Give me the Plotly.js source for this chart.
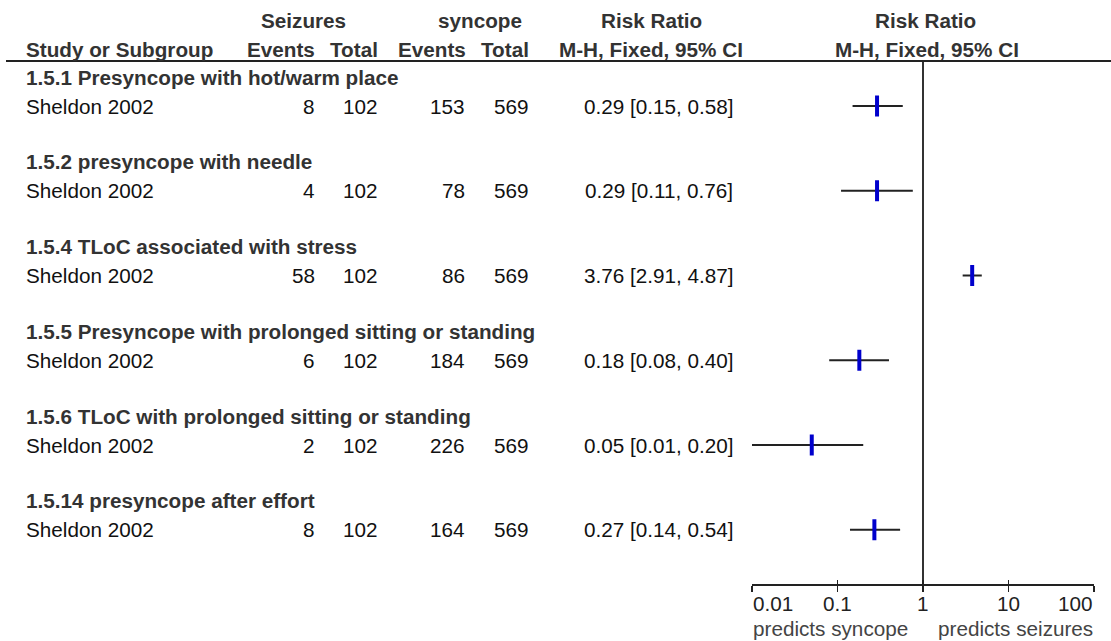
<!DOCTYPE html>
<html>
<head>
<meta charset="utf-8">
<script src="https://cdn.plot.ly/plotly-3.0.1.min.js"></script>
<style>html,body{margin:0;padding:0;background:#fff;}#chart{width:1111px;height:641px;}</style>
</head>
<body>
<div id="chart"></div>
<script>
// ---- data ----
const groups = [
  '1.5.1 Presyncope with hot/warm place',
  '1.5.2 presyncope with needle',
  '1.5.4 TLoC associated with stress',
  '1.5.5 Presyncope with prolonged sitting or standing',
  '1.5.6 TLoC with prolonged sitting or standing',
  '1.5.14 presyncope after effort'
];
const studies = ['Sheldon 2002','Sheldon 2002','Sheldon 2002','Sheldon 2002','Sheldon 2002','Sheldon 2002'];
const seizEvents = [8, 4, 58, 6, 2, 8];
const seizTotal = [102, 102, 102, 102, 102, 102];
const syncEvents = [153, 78, 86, 184, 226, 164];
const syncTotal = [569, 569, 569, 569, 569, 569];
const rr = [0.29, 0.29, 3.76, 0.18, 0.05, 0.27];
const ciLow = [0.15, 0.11, 2.91, 0.08, 0.01, 0.14];
const ciHigh = [0.58, 0.76, 4.87, 0.40, 0.20, 0.54];
const tickVals = [0.01, 0.1, 1, 10, 100];
const tickText = ['0.01', '0.1', '1', '10', '100'];
const leftLabel = 'predicts syncope';
const rightLabel = 'predicts seizures';

// ---- layout constants (pixels) ----
const W = 1111, H = 641;
const FS = 20.7;
const FONT = 'Liberation Sans, Arial, Helvetica, sans-serif';
const firstStudyY = 106, rowStep = 84.75, groupOffset = 29;
const headerY1 = 20.5, headerY2 = 49.5, headerLineY = 61, axisY = 585;
const plotLeft = 752, plotRight = 1094;

const studyY = rr.map((_, i) => firstStudyY + i * rowStep);
const groupY = studyY.map(y => y - groupOffset);

function px(x) { return x / W; }
const ann = [];
function txt(text, x, y, anchor, bold, color) {
  ann.push({
    text: bold ? '<b>' + text + '</b>' : text,
    xref: 'paper', yref: 'y', x: px(x), y: y,
    xanchor: anchor, yanchor: 'middle', showarrow: false, borderpad: 0,
    font: {family: FONT, size: FS, color: color || (bold ? '#333333' : '#111111')}
  });
}

// header
txt('Seizures', 303, headerY1, 'center', true);
txt('syncope', 480, headerY1, 'center', true);
txt('Risk Ratio', 651, headerY1, 'center', true);
txt('Risk Ratio', 925, headerY1, 'center', true);
txt('Study or Subgroup', 25, headerY2, 'left', true);
txt('Events', 316, headerY2, 'right', true);
txt('Total', 379, headerY2, 'right', true);
txt('Events', 467, headerY2, 'right', true);
txt('Total', 530, headerY2, 'right', true);
txt('M-H, Fixed, 95% CI', 651, headerY2, 'center', true);
txt('M-H, Fixed, 95% CI', 927, headerY2, 'center', true);

groups.forEach((g, i) => {
  txt(g, 25, groupY[i], 'left', true);
  txt(studies[i], 25, studyY[i], 'left', false);
  txt(String(seizEvents[i]), 316, studyY[i], 'right', false);
  txt(String(seizTotal[i]), 379, studyY[i], 'right', false);
  txt(String(syncEvents[i]), 466, studyY[i], 'right', false);
  txt(String(syncTotal[i]), 530, studyY[i], 'right', false);
  txt(rr[i].toFixed(2) + ' [' + ciLow[i].toFixed(2) + ', ' + ciHigh[i].toFixed(2) + ']', 659, studyY[i], 'center', false);
});

// tick labels on the log axis (annotation x in log10 units)
tickVals.forEach((v, i) => {
  const anchor = i === 0 ? 'left' : (i === tickVals.length - 1 ? 'right' : 'center');
  ann.push({
    text: tickText[i], xref: 'x', yref: 'y', x: Math.log10(v), y: 603,
    xanchor: anchor, yanchor: 'middle', showarrow: false, borderpad: 0,
    font: {family: FONT, size: FS, color: '#222222'}
  });
});
ann.push({text: leftLabel, xref: 'x', yref: 'y', x: Math.log10(tickVals[0]), y: 628,
  xanchor: 'left', yanchor: 'middle', showarrow: false, borderpad: 0,
  font: {family: FONT, size: FS, color: '#444444'}});
ann.push({text: rightLabel, xref: 'x', yref: 'y', x: Math.log10(tickVals[tickVals.length - 1]), y: 628,
  xanchor: 'right', yanchor: 'middle', showarrow: false, borderpad: 0,
  font: {family: FONT, size: FS, color: '#444444'}});

const traces = [
  { // line of no effect
    x: [1, 1], y: [headerLineY, axisY], mode: 'lines',
    line: {color: '#333333', width: 2}, hoverinfo: 'skip'
  },
  { // point estimates with CIs
    x: rr, y: studyY, mode: 'markers', type: 'scatter',
    marker: {symbol: 'line-ns-open', size: 15, color: '#0000CC', line: {width: 4, color: '#0000CC'}},
    error_x: {type: 'data', symmetric: false,
      array: rr.map((v, i) => ciHigh[i] - v),
      arrayminus: rr.map((v, i) => v - ciLow[i]),
      color: '#222222', thickness: 2, width: 0}
  },
  { // carrier for the crossing tick axis
    x: [1], y: [-100], xaxis: 'x2', mode: 'markers', opacity: 0, hoverinfo: 'skip'
  }
];

const axPos = 1 - axisY / H;
const layout = {
  width: W, height: H, margin: {l: 0, r: 0, t: 0, b: 0},
  paper_bgcolor: '#ffffff', plot_bgcolor: '#ffffff', showlegend: false,
  xaxis: {
    type: 'log', range: [-2, 2], domain: [px(plotLeft), px(plotRight)],
    anchor: 'free', position: axPos,
    showgrid: false, zeroline: false, showline: true, linewidth: 2, linecolor: '#222222',
    ticks: 'outside', ticklen: 6, tickwidth: 1.5, tickcolor: '#222222',
    tickmode: 'array', tickvals: tickVals, showticklabels: false, fixedrange: true
  },
  xaxis2: {
    type: 'log', range: [-2, 2], domain: [px(plotLeft), px(plotRight)],
    overlaying: 'x', anchor: 'free', position: axPos,
    showgrid: false, zeroline: false, showline: false,
    ticks: 'inside', ticklen: 5, tickwidth: 1.5, tickcolor: '#222222',
    tickmode: 'array', tickvals: tickVals, showticklabels: false, fixedrange: true
  },
  yaxis: {
    range: [H, 0], domain: [0, 1], visible: false, showgrid: false, zeroline: false, fixedrange: true
  },
  shapes: [{
    type: 'line', xref: 'paper', yref: 'y', x0: px(6), x1: 1, y0: headerLineY, y1: headerLineY,
    line: {color: '#222222', width: 2}
  }],
  annotations: ann
};

Plotly.newPlot('chart', traces, layout, {displayModeBar: false, staticPlot: true});
</script>
</body>
</html>
